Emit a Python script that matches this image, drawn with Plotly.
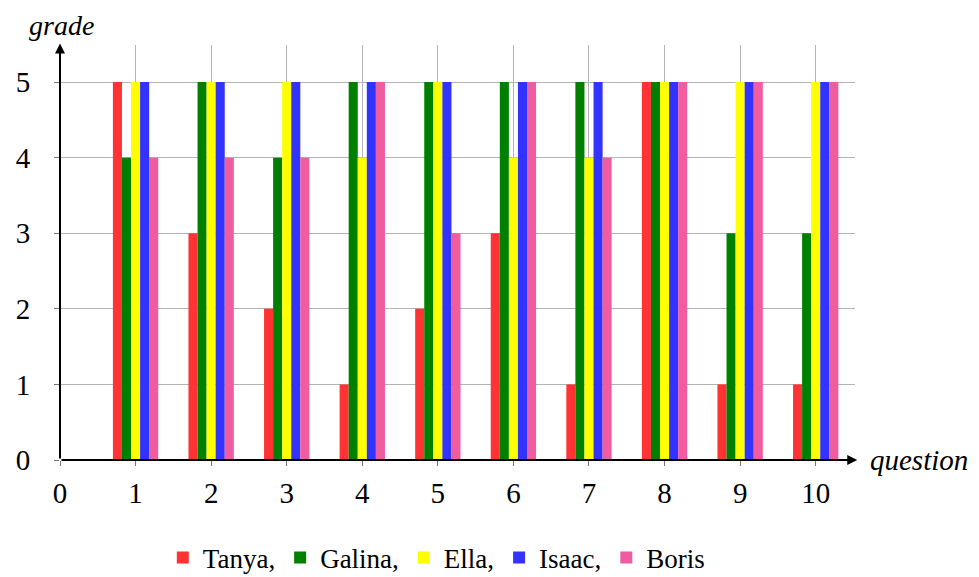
import plotly.graph_objects as go

questions = [1, 2, 3, 4, 5, 6, 7, 8, 9, 10]
tanya = [5, 3, 2, 1, 2, 3, 1, 5, 1, 1]
galina = [4, 5, 4, 5, 5, 5, 5, 5, 3, 3]
ella = [5, 5, 5, 4, 5, 4, 4, 5, 5, 5]
isaac = [5, 5, 5, 5, 5, 5, 5, 5, 5, 5]
boris = [4, 4, 4, 5, 3, 5, 4, 5, 5, 5]

names = ["Tanya,", "Galina,", "Ella,", "Isaac,", "Boris"]
series = [tanya, galina, ella, isaac, boris]
colors = ["#ff3333", "#008000", "#ffff00", "#3333ff", "#f05ca0"]

x_ticks = list(range(0, 11))
y_ticks = list(range(0, 6))

FONT = "Liberation Serif, DejaVu Serif, serif"

fig = go.Figure()
for name, vals, col in zip(names, series, colors):
    fig.add_trace(go.Bar(x=questions, y=vals, name=name,
                         marker=dict(color=col, line=dict(width=0))))

XMAX = 10.52
YMAX = 5.49

fig.update_layout(
    width=979, height=577,
    margin=dict(l=52, r=132, t=37, b=125, autoexpand=False),
    paper_bgcolor="white", plot_bgcolor="white",
    barmode="group", bargap=0.4, bargroupgap=0,
    font=dict(family=FONT, size=28, color="black"),
    showlegend=True,
    legend=dict(orientation="h", x=0.438, xanchor="center", xref="container",
                y=0.047, yanchor="middle", yref="container",
                font=dict(family=FONT, size=27), itemwidth=30, traceorder="normal"),
    xaxis=dict(range=[0, XMAX], tickvals=x_ticks, ticktext=[str(v) for v in x_ticks],
               showgrid=True, gridcolor="#b4b4b4", gridwidth=1, automargin=False,
               zeroline=False, showline=False,
               ticks="outside", ticklen=5, tickcolor="#777777", ticklabelstandoff=2,
               tickfont=dict(family=FONT, size=29)),
    yaxis=dict(range=[0, YMAX], tickvals=y_ticks, ticktext=[str(v) for v in y_ticks],
               showgrid=True, gridcolor="#b4b4b4", gridwidth=1, automargin=False,
               zeroline=False, showline=False,
               ticks="outside", ticklen=5, tickcolor="#777777", ticklabelstandoff=18,
               tickfont=dict(family=FONT, size=29)),
)

# axis lines with arrowheads
fig.add_annotation(x=XMAX + 0.03, y=0, ax=0, ay=0, xref="x", yref="y", axref="x", ayref="y",
                   showarrow=True, arrowhead=2, arrowsize=1, arrowwidth=2, arrowcolor="black", text="")
fig.add_annotation(x=0, y=YMAX + 0.02, ax=0, ay=0, xref="x", yref="y", axref="x", ayref="y",
                   showarrow=True, arrowhead=2, arrowsize=1, arrowwidth=2, arrowcolor="black", text="")

fig.add_annotation(text="<i>grade</i>", xref="paper", yref="paper", x=0.002, y=1.048,
                   xanchor="center", yanchor="middle", showarrow=False,
                   font=dict(family=FONT, size=28))
fig.add_annotation(text="<i>question</i>", xref="paper", yref="y", x=1.016, y=0,
                   xanchor="left", yanchor="middle", showarrow=False,
                   font=dict(family=FONT, size=29))

fig.write_html("out.html")
